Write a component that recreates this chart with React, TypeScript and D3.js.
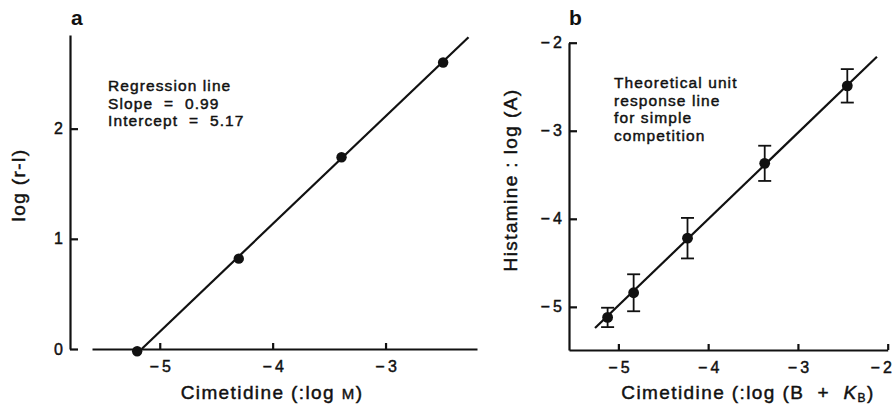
import React, { useEffect, useRef } from 'react';
import * as d3 from 'd3';

// panel a: Schild plot
const aX = [-5.2, -4.3, -3.39, -2.49];
const aY = [-0.02, 0.82, 1.74, 2.6];
const aLine = [{ x: -5.16, y: 0 }, { x: -2.265, y: 2.83 }];
const aXTicks = [-5, -4, -3];
const aYTicks = [0, 1, 2];
const aNote = ['Regression line', 'Slope  =  0.99', 'Intercept  =  5.17'];

// panel b: unit response line with error bars
const bX = [-5.12, -4.83, -4.23, -3.37, -2.45];
const bY = [-5.12, -4.84, -4.22, -3.37, -2.49];
const bErr = [0.11, 0.21, 0.23, 0.2, 0.19];
const bLine = [{ x: -5.26, y: -5.24 }, { x: -2.12, y: -2.16 }];
const bXTicks = [-5, -4, -3, -2];
const bYTicks = [-5, -4, -3, -2];
const bNote = ['Theoretical unit', 'response line', 'for simple', 'competition'];

const FONT = '"Liberation Sans", Arial, Helvetica, sans-serif';
const INK = '#111';
const fmt = (d: number) => (d < 0 ? '\u2212\u2009' + Math.abs(d) : String(d));

const App = () => {
    const svgRef = useRef<SVGSVGElement>(null);

    useEffect(() => {
        const svg = d3.select(svgRef.current);
        svg.selectAll('*').remove();

        // printed type is heavier than Liberation regular, thicken it a bit
        const ink = (t: any) => t.attr('fill', INK).attr('stroke', INK).attr('stroke-width', 0.45);

        const styleAxis = (g: any) => {
            g.selectAll('path, line').attr('stroke', INK).attr('stroke-width', 2.2);
            g.selectAll('text')
                .attr('font-family', FONT)
                .attr('font-size', 16)
                .call(ink);
        };

        // ---------- panel a ----------
        const xA = d3.scaleLinear().domain([-5.6, -2.19]).range([92, 477]);
        const yA = d3.scaleLinear().domain([0, 2.85]).range([349, 35]);

        svg.append('g')
            .attr('transform', `translate(0,${yA(0)})`)
            .call(d3.axisBottom(xA).tickValues(aXTicks).tickSizeInner(-6).tickSizeOuter(0).tickPadding(12).tickFormat(fmt as any))
            .call(styleAxis);

        svg.append('g')
            .attr('transform', `translate(70,0)`)
            .call(d3.axisLeft(yA).tickValues(aYTicks).tickSizeInner(-8).tickSizeOuter(0).tickPadding(7).tickFormat(fmt as any))
            .call(styleAxis);

        const line = (xs: any, ys: any) => d3.line<{ x: number; y: number }>().x(d => xs(d.x)).y(d => ys(d.y));

        svg.append('path')
            .datum(aLine)
            .attr('fill', 'none')
            .attr('stroke', INK)
            .attr('stroke-width', 2.2)
            .attr('d', line(xA, yA));

        svg.selectAll('.dotA')
            .data(aX.map((x, i) => ({ x, y: aY[i] })))
            .enter()
            .append('circle')
            .attr('cx', d => xA(d.x))
            .attr('cy', d => yA(d.y))
            .attr('r', 5.2)
            .attr('fill', INK);

        svg.append('text')
            .attr('font-family', FONT)
            .attr('font-size', 15.5)
            .attr('letter-spacing', 1.1)
            .call(ink)
            .style('white-space', 'pre')
            .selectAll('tspan')
            .data(aNote)
            .enter()
            .append('tspan')
            .attr('x', 108)
            .attr('y', (d, i) => 91 + i * 17.5)
            .text(d => d);

        svg.append('text')
            .attr('x', 272)
            .attr('y', 399)
            .attr('text-anchor', 'middle')
            .attr('font-family', FONT)
            .attr('font-size', 19)
            .attr('letter-spacing', 1.4)
            .call(ink)
            .text('Cimetidine (:log ')
            .append('tspan')
            .attr('font-size', 15)
            .text('M')
            .append('tspan')
            .attr('font-size', 19)
            .text(')');

        svg.append('text')
            .attr('transform', 'translate(25,185) rotate(-90)')
            .attr('text-anchor', 'middle')
            .attr('font-family', FONT)
            .attr('font-size', 19)
            .attr('letter-spacing', 1.4)
            .call(ink)
            .text('log (r-l)');

        svg.append('text')
            .attr('x', 71)
            .attr('y', 25)
            .attr('font-family', FONT)
            .attr('font-size', 21)
            .attr('font-weight', 'bold')
            .attr('fill', INK)
            .text('a');

        // ---------- panel b ----------
        const xB = d3.scaleLinear().domain([-5.55, -2]).range([569, 887.7]);
        const yB = d3.scaleLinear().domain([-5.49, -2]).range([350, 42.7]);

        const xAxisB = svg.append('g')
            .attr('transform', `translate(0,${yB(-5.49)})`)
            .call(d3.axisBottom(xB).tickValues(bXTicks).tickSizeInner(-6).tickSizeOuter(0).tickPadding(12).tickFormat(fmt as any))
            .call(styleAxis);
        // last label sits against the right edge of the page
        xAxisB.selectAll('.tick text').filter((d: any) => d === -2).attr('dx', -7);

        svg.append('g')
            .attr('transform', `translate(${xB(-5.55)},0)`)
            .call(d3.axisLeft(yB).tickValues(bYTicks).tickSizeInner(-8).tickSizeOuter(0).tickPadding(7).tickFormat(fmt as any))
            .call(styleAxis);

        svg.append('path')
            .datum(bLine)
            .attr('fill', 'none')
            .attr('stroke', INK)
            .attr('stroke-width', 2.2)
            .attr('d', line(xB, yB));

        const bData = bX.map((x, i) => ({ x, y: bY[i], e: bErr[i] }));
        const bars = svg.selectAll('.errB').data(bData).enter().append('g');
        bars.append('line')
            .attr('x1', d => xB(d.x)).attr('x2', d => xB(d.x))
            .attr('y1', d => yB(d.y + d.e)).attr('y2', d => yB(d.y - d.e))
            .attr('stroke', INK).attr('stroke-width', 1.8);
        [1, -1].forEach(s => {
            bars.append('line')
                .attr('x1', d => xB(d.x) - 6.5).attr('x2', d => xB(d.x) + 6.5)
                .attr('y1', d => yB(d.y + s * d.e)).attr('y2', d => yB(d.y + s * d.e))
                .attr('stroke', INK).attr('stroke-width', 1.8);
        });
        bars.append('circle')
            .attr('cx', d => xB(d.x))
            .attr('cy', d => yB(d.y))
            .attr('r', 5.4)
            .attr('fill', INK);

        svg.append('text')
            .attr('font-family', FONT)
            .attr('font-size', 15.5)
            .attr('letter-spacing', 1.1)
            .call(ink)
            .selectAll('tspan')
            .data(bNote)
            .enter()
            .append('tspan')
            .attr('x', 614)
            .attr('y', (d, i) => 88 + i * 17.5)
            .text(d => d);

        const xlabB = svg.append('text')
            .attr('x', 748)
            .attr('y', 399)
            .attr('text-anchor', 'middle')
            .attr('font-family', FONT)
            .attr('font-size', 19)
            .attr('letter-spacing', 1.4)
            .call(ink)
            .style('white-space', 'pre');
        xlabB.append('tspan').text('Cimetidine (:log (B  +  ');
        xlabB.append('tspan').attr('font-style', 'italic').text('K');
        xlabB.append('tspan').attr('font-size', 12).attr('dy', 3).text('B');
        xlabB.append('tspan').attr('dy', -3).text(')');

        svg.append('text')
            .attr('transform', 'translate(517,180) rotate(-90)')
            .attr('text-anchor', 'middle')
            .attr('font-family', FONT)
            .attr('font-size', 19)
            .attr('letter-spacing', 1.4)
            .call(ink)
            .text('Histamine : log (A)');

        svg.append('text')
            .attr('x', 569)
            .attr('y', 25)
            .attr('font-family', FONT)
            .attr('font-size', 21)
            .attr('font-weight', 'bold')
            .attr('fill', INK)
            .text('b');
    }, []);

    return (
        <svg
            ref={svgRef}
            width={894}
            height={406}
            style={{ position: 'absolute', left: 0, top: 0, background: '#fff' }}
        />
    );
};

export default App;
